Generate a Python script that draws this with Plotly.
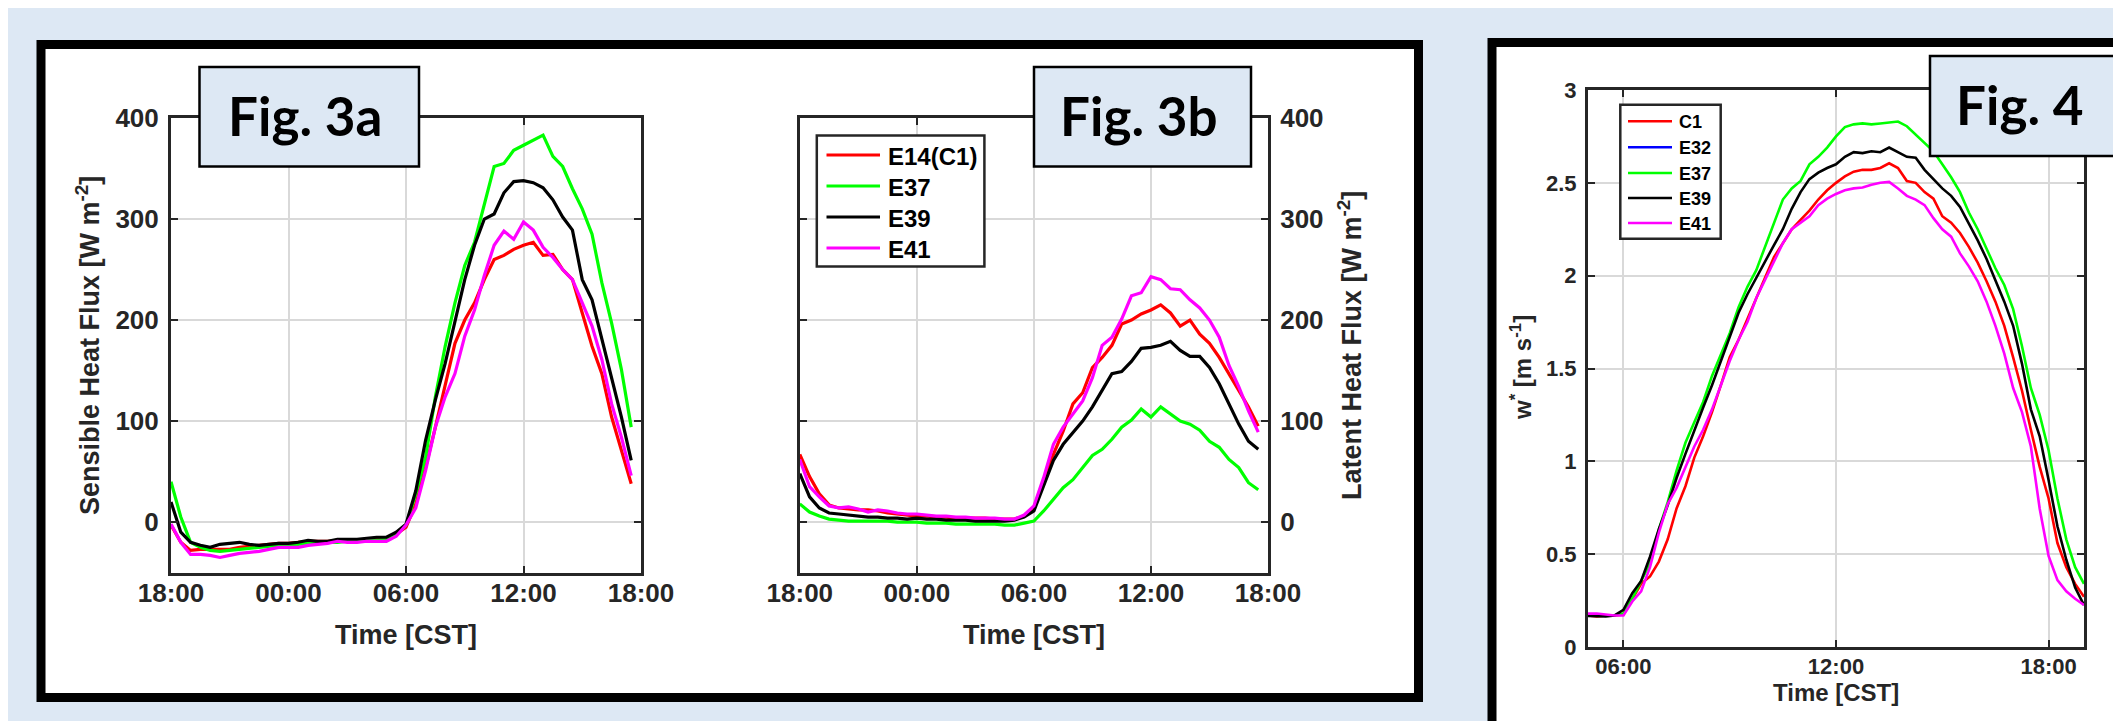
import plotly.graph_objects as go

W, H = 2121, 721

# ---------------- data ----------------
# Fig. 3: half-hourly fluxes, hours counted from 00:00 of day 1 (18:00 .. 17:30 next day)
t_flux = [18.0, 18.5, 19.0, 19.5, 20.0, 20.5, 21.0, 21.5, 22.0, 22.5, 23.0, 23.5,
          24.0, 24.5, 25.0, 25.5, 26.0, 26.5, 27.0, 27.5, 28.0, 28.5, 29.0, 29.5,
          30.0, 30.5, 31.0, 31.5, 32.0, 32.5, 33.0, 33.5, 34.0, 34.5, 35.0, 35.5,
          36.0, 36.5, 37.0, 37.5, 38.0, 38.5, 39.0, 39.5, 40.0, 40.5, 41.0, 41.5]
flux_ticks = [18, 24, 30, 36, 42]
flux_ticklabels = ["18:00", "00:00", "06:00", "12:00", "18:00"]
flux_yticks = [0, 100, 200, 300, 400]

sh_E14 = [-3, -20, -28, -27, -27, -27, -27, -25, -24, -23, -22, -21,
          -21, -20, -19, -19, -19, -18, -18, -18, -17, -17, -17, -12,
          -5, 18, 54, 94, 134, 177, 200, 217, 240, 260, 264, 270,
          274, 277, 264, 265, 250, 240, 207, 174, 147, 104, 71, 38]
sh_E37 = [40, 5, -20, -25, -28, -29, -28, -27, -26, -25, -24, -23,
          -22, -22, -21, -21, -20, -20, -19, -19, -18, -18, -17, -12,
          -3, 28, 64, 124, 174, 217, 254, 277, 314, 352, 355, 368,
          373, 378, 383, 362, 352, 330, 310, 285, 237, 197, 151, 94]
sh_E39 = [20, -10, -20, -23, -25, -22, -21, -20, -22, -23, -22, -21,
          -21, -20, -18, -19, -19, -17, -17, -17, -16, -15, -15, -10,
          -2, 31, 81, 121, 157, 200, 240, 274, 300, 305, 326, 337,
          338, 336, 331, 319, 302, 289, 240, 220, 181, 144, 104, 61]
sh_E41 = [-2, -20, -32, -32, -33, -35, -33, -31, -30, -29, -27, -25,
          -25, -25, -23, -22, -21, -19, -20, -20, -19, -19, -19, -14,
          -3, 14, 51, 94, 124, 147, 184, 210, 244, 274, 288, 280,
          297, 289, 272, 262, 250, 240, 217, 194, 161, 117, 84, 46]

lh_E14 = [67, 45, 28, 17, 14, 13, 12, 12, 11, 9, 8, 7,
          6, 6, 5, 5, 4, 4, 4, 4, 3, 3, 3, 6,
          14, 41, 67, 90, 117, 128, 153, 163, 175, 196, 200, 206,
          210, 215, 207, 194, 200, 186, 177, 163, 147, 130, 114, 95]
lh_E37 = [18, 10, 6, 3, 2, 1, 1, 1, 1, 1, 0, 0,
          0, -1, -1, -1, -2, -2, -2, -2, -2, -3, -3, -1,
          1, 11, 22, 34, 42, 54, 66, 72, 82, 94, 101, 112,
          104, 114, 107, 100, 97, 91, 80, 74, 62, 54, 39, 32]
lh_E39 = [48, 25, 14, 9, 8, 7, 6, 5, 5, 4, 4, 3,
          4, 3, 3, 2, 2, 2, 1, 1, 1, 1, 2, 5,
          11, 37, 61, 77, 89, 100, 114, 130, 147, 149, 159, 172,
          173, 175, 179, 170, 164, 164, 153, 137, 117, 97, 80, 72]
lh_E41 = [62, 35, 25, 16, 14, 15, 13, 10, 12, 11, 9, 8,
          8, 7, 6, 6, 5, 5, 4, 4, 4, 3, 3, 7,
          16, 44, 77, 94, 107, 120, 143, 175, 183, 201, 224, 227,
          243, 240, 231, 230, 220, 212, 200, 183, 155, 134, 110, 89]

# Fig. 4: convective velocity scale w*, quarter-hourly 05:00 .. 19:00 (hours)
t_wstar = [5.0, 5.25, 5.5, 5.75, 6.0, 6.25, 6.5, 6.75, 7.0, 7.25, 7.5, 7.75,
           8.0, 8.25, 8.5, 8.75, 9.0, 9.25, 9.5, 9.75, 10.0, 10.25, 10.5, 10.75,
           11.0, 11.25, 11.5, 11.75, 12.0, 12.25, 12.5, 12.75, 13.0, 13.25, 13.5, 13.75,
           14.0, 14.25, 14.5, 14.75, 15.0, 15.25, 15.5, 15.75, 16.0, 16.25, 16.5, 16.75,
           17.0, 17.25, 17.5, 17.75, 18.0, 18.25, 18.5, 18.75, 19.0]
wstar_ticks = [6, 12, 18]
wstar_ticklabels = ["06:00", "12:00", "18:00"]
wstar_yticks = [0, 0.5, 1, 1.5, 2, 2.5, 3]
wstar_yticklabels = ["0", "0.5", "1", "1.5", "2", "2.5", "3"]

w_C1 = [0.17, 0.165, 0.17, 0.17, 0.175,
        0.26, 0.34, 0.38, 0.46, 0.58, 0.746, 0.866, 1.02, 1.135, 1.265, 1.41, 1.56,
        1.655, 1.77, 1.88, 1.99, 2.10, 2.175, 2.25, 2.30, 2.35, 2.41, 2.46, 2.50,
        2.535, 2.56, 2.57, 2.57, 2.58, 2.605, 2.58, 2.51, 2.50, 2.45, 2.415, 2.32,
        2.285, 2.23, 2.155, 2.07, 1.97, 1.86, 1.73, 1.56, 1.38, 1.17, 0.97, 0.80,
        0.56, 0.43, 0.34, 0.27]
w_E32 = [None]  # listed in the legend, no visible data in the reference
w_E37 = [0.17, 0.17, 0.17, 0.17, 0.18,
         0.26, 0.356, 0.45, 0.634, 0.78, 0.95, 1.10, 1.21, 1.32, 1.46, 1.58, 1.69,
         1.83, 1.94, 2.03, 2.16, 2.29, 2.41, 2.47, 2.51, 2.60, 2.64, 2.69, 2.75,
         2.80, 2.815, 2.82, 2.815, 2.82, 2.824, 2.83, 2.805, 2.76, 2.71, 2.67, 2.60,
         2.53, 2.45, 2.34, 2.25, 2.14, 2.04, 1.95, 1.82, 1.62, 1.395, 1.25, 1.06,
         0.80, 0.58, 0.43, 0.34]
w_E39 = [0.167, 0.165, 0.165, 0.17, 0.20,
         0.29, 0.356, 0.486, 0.634, 0.764, 0.91, 1.04, 1.17, 1.29, 1.41, 1.54, 1.67,
         1.80, 1.90, 1.99, 2.08, 2.165, 2.25, 2.36, 2.45, 2.52, 2.555, 2.58, 2.60,
         2.64, 2.665, 2.66, 2.67, 2.665, 2.69, 2.665, 2.64, 2.635, 2.57, 2.52, 2.47,
         2.43, 2.37, 2.28, 2.19, 2.09, 1.98, 1.86, 1.73, 1.525, 1.28, 1.135, 0.90,
         0.65, 0.47, 0.32, 0.226]
w_E41 = [0.18, 0.18, 0.175, 0.17, 0.17,
         0.245, 0.30, 0.43, 0.616, 0.77, 0.857, 0.968, 1.08, 1.17, 1.28, 1.41, 1.54,
         1.655, 1.75, 1.88, 1.98, 2.08, 2.175, 2.25, 2.285, 2.32, 2.38, 2.415, 2.44,
         2.46, 2.47, 2.475, 2.49, 2.50, 2.505, 2.47, 2.43, 2.41, 2.38, 2.31, 2.25,
         2.21, 2.12, 2.05, 1.97, 1.86, 1.73, 1.58, 1.395, 1.265, 1.08, 0.745, 0.49,
         0.36, 0.30, 0.26, 0.226]

# ---------------- styling ----------------
BG = "#dde8f4"
AX = "#262626"
GRID = "#d9d9d9"
FONT = "Liberation Sans"
RED, GREEN, BLACK, MAGENTA, BLUE = "#ff0000", "#00ff00", "#000000", "#ff00ff", "#0000ff"

series_3a = [("E14(C1)", sh_E14, RED), ("E37", sh_E37, GREEN),
             ("E39", sh_E39, BLACK), ("E41", sh_E41, MAGENTA)]
series_3b = [("E14(C1)", lh_E14, RED), ("E37", lh_E37, GREEN),
             ("E39", lh_E39, BLACK), ("E41", lh_E41, MAGENTA)]
series_4 = [("C1", w_C1, RED), ("E32", w_E32, BLUE), ("E37", w_E37, GREEN),
            ("E39", w_E39, BLACK), ("E41", w_E41, MAGENTA)]


def px(x):
    return x / W


def py(y):
    return 1 - y / H


fig = go.Figure()
for name, ys, c in series_3a:
    fig.add_trace(go.Scatter(x=t_flux, y=ys, mode="lines", name=name,
                             line=dict(color=c, width=3.2), xaxis="x", yaxis="y"))
for name, ys, c in series_3b:
    fig.add_trace(go.Scatter(x=t_flux, y=ys, mode="lines", name=name,
                             line=dict(color=c, width=3.2), xaxis="x2", yaxis="y2"))
for name, ys, c in series_4:
    fig.add_trace(go.Scatter(x=t_wstar[:len(ys)], y=ys, mode="lines", name=name,
                             line=dict(color=c, width=2.6), xaxis="x3", yaxis="y3"))


def axis_style(size):
    return dict(showline=True, linecolor=AX, linewidth=3, mirror="ticks",
                ticks="inside", ticklen=7, tickwidth=2, tickcolor=AX,
                showgrid=True, gridcolor=GRID, gridwidth=2, zeroline=False,
                tickfont=dict(family=FONT, size=size, color=AX, weight="bold"),
                automargin=False)


ydom3 = [py(564.6), py(110)]
ydom4 = [py(639), py(82)]

fig.update_layout(
    width=W, height=H, showlegend=False,
    margin=dict(l=0, r=0, t=0, b=0),
    paper_bgcolor=BG, plot_bgcolor="white",
    xaxis=dict(domain=[px(163), px(633)], anchor="y", range=[18, 42],
               tickvals=flux_ticks, ticktext=flux_ticklabels,
               ticklabelstandoff=-5, **axis_style(26)),
    yaxis=dict(domain=ydom3, anchor="x", range=[-50, 400],
               tickvals=flux_yticks, ticklabelstandoff=4, **axis_style(26)),
    xaxis2=dict(domain=[px(791.8), px(1260)], anchor="y2", range=[18, 42],
                tickvals=flux_ticks, ticktext=flux_ticklabels,
                ticklabelstandoff=-5, **axis_style(26)),
    yaxis2=dict(domain=ydom3, anchor="x2", range=[-50, 400], side="right",
                tickvals=flux_yticks, ticklabelstandoff=4, **axis_style(26)),
    xaxis3=dict(domain=[px(1580), px(2076)], anchor="y3", range=[5, 19],
                tickvals=wstar_ticks, ticktext=wstar_ticklabels,
                ticklabelstandoff=-2, **axis_style(22)),
    yaxis3=dict(domain=ydom4, anchor="x3", range=[0, 3],
                tickvals=wstar_yticks, ticktext=wstar_yticklabels,
                ticklabelstandoff=4, **axis_style(22)),
)

shapes = [
    # white panels with thick black frames
    dict(type="rect", xref="paper", yref="paper", x0=px(33), x1=px(1410.5),
         y0=py(689.5), y1=py(36.5), fillcolor="white",
         line=dict(color="black", width=9), layer="below"),
    dict(type="rect", xref="paper", yref="paper", x0=px(1484), x1=px(2140),
         y0=py(740), y1=py(34.5), fillcolor="white",
         line=dict(color="black", width=9), layer="below"),
    # figure label boxes
    dict(type="rect", xref="paper", yref="paper", x0=px(191.5), x1=px(411),
         y0=py(158.6), y1=py(59), fillcolor=BG, line=dict(color="black", width=2.5),
         layer="above"),
    dict(type="rect", xref="paper", yref="paper", x0=px(1026), x1=px(1243),
         y0=py(158.6), y1=py(59), fillcolor=BG, line=dict(color="black", width=2.5),
         layer="above"),
    dict(type="rect", xref="paper", yref="paper", x0=px(1922), x1=px(2117.5),
         y0=py(148), y1=py(48), fillcolor=BG, line=dict(color="black", width=2.5),
         layer="above"),
]

label_font = dict(family="Lato", size=53, color="black", weight="bold")
title_font = dict(family=FONT, size=27, color=AX, weight="bold")
title_font4 = dict(family=FONT, size=24, color=AX, weight="bold")
annotations = [
    dict(text="Fig. 3a", x=px(297), y=py(108), font=label_font),
    dict(text="Fig. 3b", x=px(1131), y=py(108), font=label_font),
    dict(text="Fig. 4", x=px(2012), y=py(97), font=label_font),
    dict(text="Time [CST]", x=px(398), y=py(627), font=title_font),
    dict(text="Time [CST]", x=px(1026), y=py(627), font=title_font),
    dict(text="Time [CST]", x=px(1828), y=py(684), font=title_font4),
    dict(text="Sensible Heat Flux [W m<sup>-2</sup>]", x=px(80), y=py(338),
         textangle=-90, font=title_font),
    dict(text="Latent Heat Flux [W m<sup>-2</sup>]", x=px(1342), y=py(338),
         textangle=-90, font=title_font),
    dict(text="w<sup>*</sup> [m s<sup>-1</sup>]", x=px(1513), y=py(360),
         textangle=-90, font=title_font4),
]
for a in annotations:
    a.update(xanchor="center", yanchor="middle")


# MATLAB-style legend boxes (drawn as shapes + text so sample lines have the original length)
def add_legend(series, box, rows, line_x, text_x, fsize, lw):
    x0, y0, x1, y1 = box
    shapes.append(dict(type="rect", xref="paper", yref="paper",
                       x0=px(x0), x1=px(x1), y0=py(y1), y1=py(y0),
                       fillcolor="white", line=dict(color=AX, width=2.5), layer="above"))
    for (name, _, c), ry in zip(series, rows):
        shapes.append(dict(type="line", xref="paper", yref="paper",
                           x0=px(line_x[0]), x1=px(line_x[1]), y0=py(ry), y1=py(ry),
                           line=dict(color=c, width=lw), layer="above"))
        annotations.append(dict(text=name, x=px(text_x), y=py(ry + 1),
                                xanchor="left", yanchor="middle",
                                font=dict(family=FONT, size=fsize, color="black",
                                          weight="bold")))


add_legend(series_3b, (808.8, 127.4, 976.4, 258.4), [147, 178, 209, 240],
           (818.5, 872), 878, 24, 3.2)
add_legend(series_4, (1612.3, 96.7, 1712.7, 230.7), [113.3, 139.3, 165, 190, 215],
           (1620, 1664), 1669, 18, 2.6)

for a in annotations:
    a.update(xref="paper", yref="paper", showarrow=False)
fig.update_layout(shapes=shapes, annotations=annotations)

fig.write_html("out.html")
